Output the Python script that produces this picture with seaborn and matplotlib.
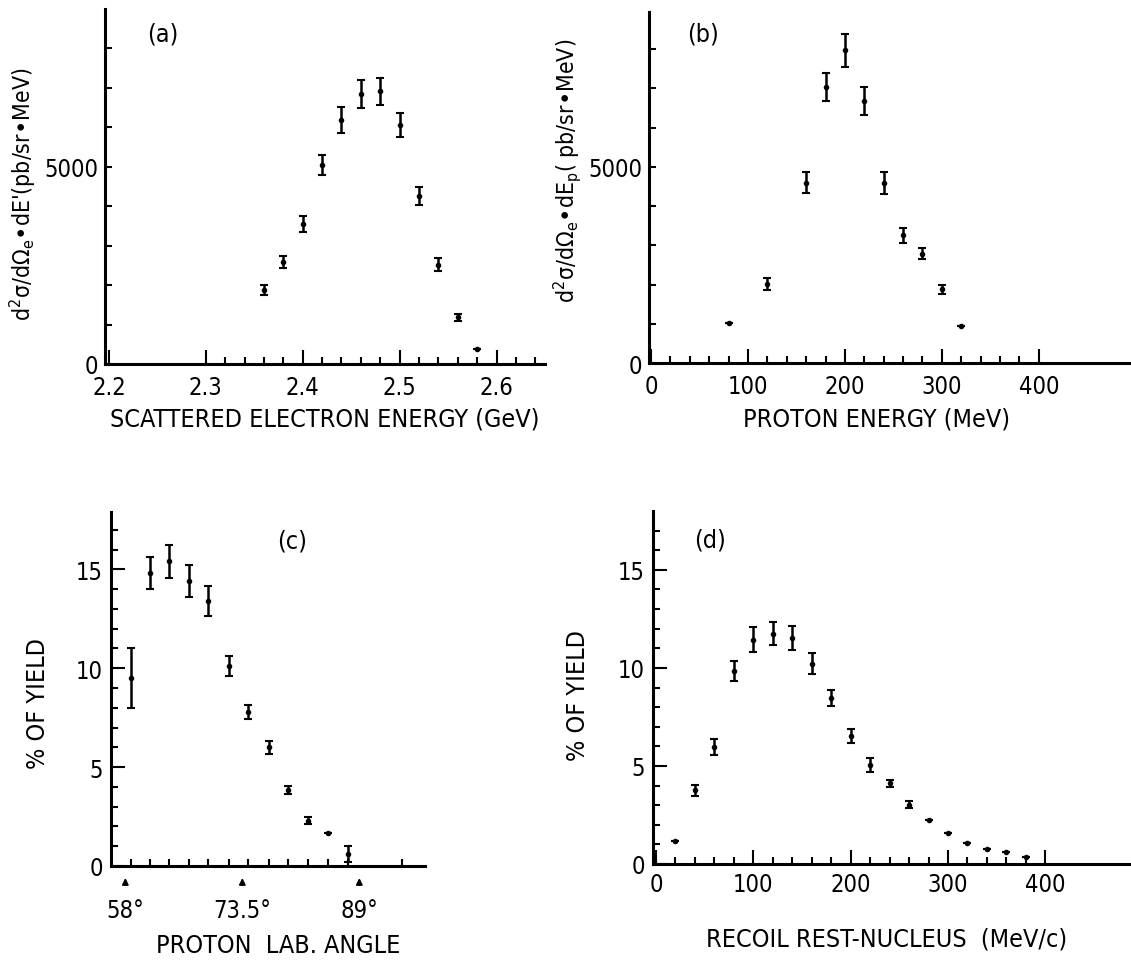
import numpy as np
import matplotlib
matplotlib.use("Agg")
import matplotlib.pyplot as plt
import seaborn as sns

# (a) scattered electron energy
a_x = [2.36, 2.38, 2.40, 2.42, 2.44, 2.46, 2.48, 2.50, 2.52, 2.54, 2.56, 2.58]
a_y = [1880, 2590, 3540, 5040, 6190, 6850, 6910, 6060, 4250, 2520, 1190, 380]
a_err = [130, 150, 200, 260, 330, 350, 350, 300, 225, 170, 90, 0]

# (b) proton energy
b_x = [80, 120, 160, 180, 200, 220, 240, 260, 280, 300, 320]
b_y = [1030, 2010, 4600, 7040, 7980, 6680, 4600, 3260, 2790, 1880, 940]
b_err = [0, 150, 270, 360, 420, 360, 280, 190, 140, 115, 0]

# (c) proton lab angle
c_x = [58.8, 61.3, 63.8, 66.4, 69.0, 71.7, 74.3, 77.0, 79.6, 82.2, 84.8, 87.5]
c_y = [9.5, 14.8, 15.4, 14.4, 13.4, 10.1, 7.8, 6.0, 3.85, 2.3, 1.65, 0.6]
c_err = [1.5, 0.8, 0.85, 0.8, 0.75, 0.5, 0.35, 0.33, 0.2, 0.18, 0, 0.42]
c_marks = [58, 73.5, 89]
c_labels = ['58°', '73.5°', '89°']

# (d) recoil rest-nucleus momentum
d_x = [20, 40, 60, 80, 100, 120, 140, 160, 180, 200, 220, 240, 260, 280, 300, 320, 340, 360, 380]
d_y = [1.15, 3.76, 5.97, 9.83, 11.44, 11.75, 11.53, 10.22, 8.47, 6.53, 5.05, 4.12, 3.02,
       2.25, 1.58, 1.07, 0.76, 0.59, 0.37]
d_err = [0, 0.27, 0.42, 0.5, 0.62, 0.6, 0.63, 0.53, 0.42, 0.36, 0.37, 0.17, 0.17,
         0, 0, 0, 0, 0, 0]

sns.set_theme(style='ticks', rc={'text.color': 'black', 'axes.labelcolor': 'black',
                                 'xtick.color': 'black', 'ytick.color': 'black'})
plt.rcParams['font.family'] = ['DejaVu Sans']
plt.rcParams['font.stretch'] = 'condensed'
plt.rcParams['mathtext.fontset'] = 'dejavusans'

W, H = 1131, 962
fig = plt.figure(figsize=(W / 100, H / 100), dpi=100)


def box(l, t, r, b):
    return [l / W, 1 - b / H, (r - l) / W, (b - t) / H]


ax_a = fig.add_axes(box(105, 10, 545, 365))
ax_b = fig.add_axes(box(649, 13, 1131, 364))
ax_c = fig.add_axes(box(111, 513, 425, 867))
ax_d = fig.add_axes(box(653, 512, 1131, 865))

tick_fs = 17
lab_fs = 18
ylab_fs = 16.5


def draw(ax, x, y, err):
    ax.errorbar(x, y, yerr=err, fmt='none', ecolor='black', elinewidth=1.8,
                capsize=3, capthick=1.5, zorder=2)
    sns.scatterplot(x=x, y=y, color='black', s=16, linewidth=0, ax=ax, zorder=3)
    for s in ['top', 'right']:
        ax.spines[s].set_visible(False)
    for s in ['left', 'bottom']:
        ax.spines[s].set_linewidth(2.2)
        ax.spines[s].set_color('black')
    ax.tick_params(which='both', direction='in', color='black', width=1.5,
                   labelsize=tick_fs, labelcolor='black')
    ax.tick_params(which='major', length=10)
    ax.tick_params(which='minor', length=5)
    ax.set_facecolor('white')


# (a)
draw(ax_a, a_x, a_y, a_err)
ax_a.set_xlim(2.196, 2.65)
ax_a.set_ylim(0, 9000)
ax_a.set_xticks([2.2, 2.3, 2.4, 2.5, 2.6], ['2.2', '2.3', '2.4', '2.5', '2.6'])
ax_a.set_xticks(np.arange(2.32, 2.65, 0.02), minor=True)
ax_a.set_yticks(range(0, 9000, 1000), ['0', '', '', '', '', '5000', '', '', ''])
ax_a.tick_params(axis='y', which='major', length=5, pad=5)
ax_a.tick_params(axis='x', pad=8)
ax_a.set_xlabel('SCATTERED ELECTRON ENERGY (GeV)', fontsize=lab_fs)
ax_a.xaxis.set_label_coords(0.5, -0.12)
ax_a.set_ylabel(r"d$^2$σ/dΩ$_\mathrm{e}$•dE'(pb/sr•MeV)", fontsize=ylab_fs)
ax_a.yaxis.set_label_coords(-0.152, 0.48)
ax_a.text(0.095, 0.91, '(a)', transform=ax_a.transAxes, fontsize=lab_fs)

# (b)
draw(ax_b, b_x, b_y, b_err)
ax_b.set_xlim(-2, 495)
ax_b.set_ylim(0, 8950)
ax_b.set_xticks([0, 100, 200, 300, 400])
ax_b.set_xticks(range(20, 401, 20), minor=True)
ax_b.set_yticks(range(0, 9000, 1000), ['0', '', '', '', '', '5000', '', '', ''])
ax_b.tick_params(axis='y', which='major', length=5, pad=5)
ax_b.tick_params(axis='x', pad=8)
ax_b.set_xlabel('PROTON ENERGY (MeV)', fontsize=lab_fs)
ax_b.xaxis.set_label_coords((877 - 649) / (1131 - 649), -0.125)
ax_b.set_ylabel(r"d$^2$σ/dΩ$_\mathrm{e}$•dE$_\mathrm{p}$( pb/sr•MeV)", fontsize=ylab_fs)
ax_b.yaxis.set_label_coords(-0.137, 0.55)
ax_b.text(0.08, 0.92, '(b)', transform=ax_b.transAxes, fontsize=lab_fs)

# (c)
draw(ax_c, c_x, c_y, c_err)
ax_c.set_xlim(56.1, 97.7)
ax_c.set_ylim(0, 17.9)
ax_c.set_xticks(c_marks, c_labels)
ax_c.set_xticks(c_x + [94.6], minor=True)
ax_c.tick_params(axis='x', which='major', length=0, pad=23)
ax_c.set_yticks([0, 5, 10, 15])
ax_c.set_yticks(range(1, 18), minor=True)
ax_c.tick_params(axis='y', pad=6)
for m in c_marks:
    ax_c.annotate('', xy=(m, -0.026), xytext=(m, -0.062),
                  xycoords=('data', 'axes fraction'),
                  arrowprops=dict(arrowstyle='-|>,head_width=0.15,head_length=0.3',
                                  color='black', lw=1.3))
ax_c.set_xlabel('PROTON  LAB. ANGLE', fontsize=lab_fs)
ax_c.xaxis.set_label_coords((278 - 111) / (425 - 111), -0.19)
ax_c.set_ylabel('% OF YIELD', fontsize=lab_fs)
ax_c.yaxis.set_label_coords(-0.194, 0.463)
ax_c.text(0.53, 0.9, '(c)', transform=ax_c.transAxes, fontsize=lab_fs)

# (d)
draw(ax_d, d_x, d_y, d_err)
ax_d.set_xlim(-3, 488)
ax_d.set_ylim(0, 18)
ax_d.set_xticks([0, 100, 200, 300, 400])
ax_d.set_xticks(range(20, 401, 20), minor=True)
ax_d.set_yticks([0, 5, 10, 15])
ax_d.set_yticks(range(1, 18), minor=True)
ax_d.tick_params(axis='y', pad=6)
ax_d.tick_params(axis='x', pad=6)
ax_d.set_xlabel('RECOIL REST-NUCLEUS  (MeV/c)', fontsize=lab_fs)
ax_d.xaxis.set_label_coords((887 - 653) / (1131 - 653), -0.177)
ax_d.set_ylabel('% OF YIELD', fontsize=lab_fs)
ax_d.yaxis.set_label_coords(-0.132, 0.48)
ax_d.text(0.085, 0.9, '(d)', transform=ax_d.transAxes, fontsize=lab_fs)

fig.savefig('out.png', dpi=100, facecolor='white')
